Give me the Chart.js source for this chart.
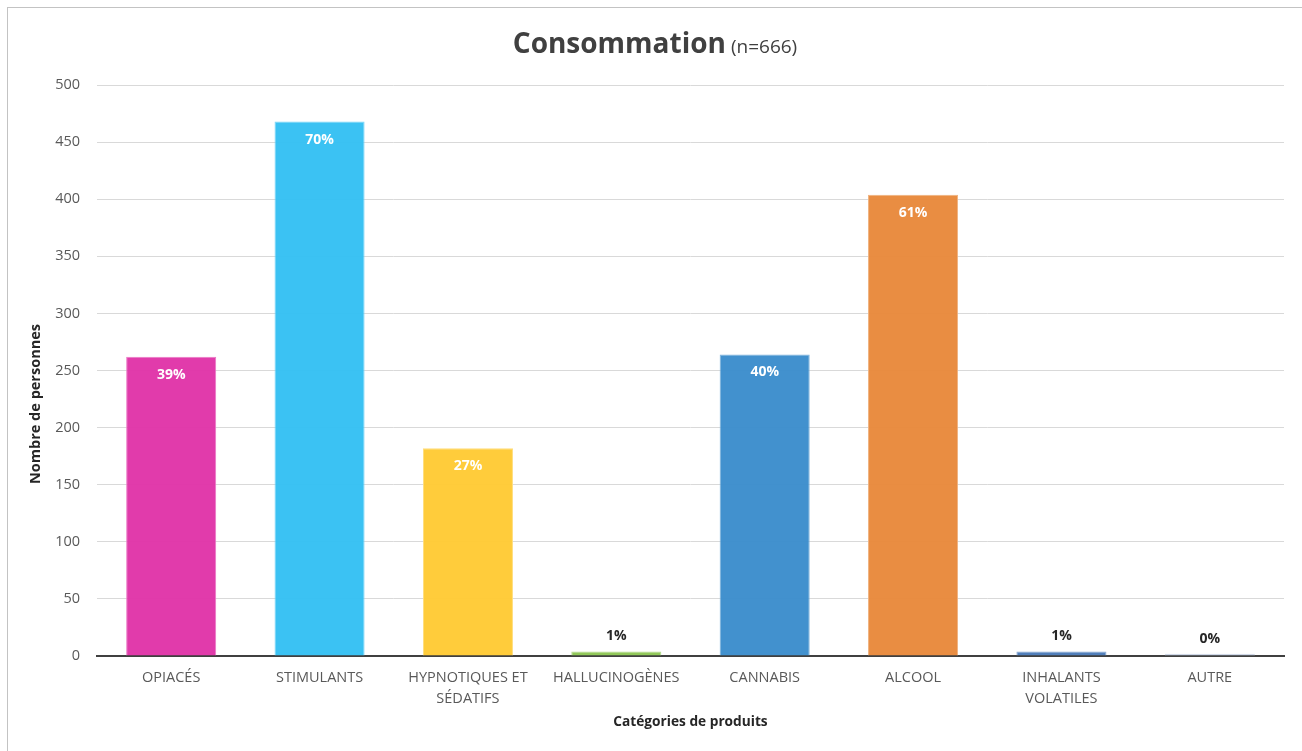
<!DOCTYPE html>
<html lang="fr">
<head>
<meta charset="utf-8">
<title>Consommation</title>
<script src="https://cdn.jsdelivr.net/npm/chart.js@4.4.1/dist/chart.umd.min.js"></script>
<style>
  html, body { margin:0; padding:0; background:#fff; overflow:hidden; }
  #wrap { position:relative; width:1302px; height:751px; }
  #frame { position:absolute; left:7px; top:7px; width:1400px; height:900px; border-top:1px solid #c3c3c3; border-left:1px solid #c3c3c3; pointer-events:none; }
  #chart { position:absolute; left:0; top:0; }
</style>
</head>
<body>
<div id="wrap">
  <div id="frame"></div>
  <canvas id="chart" width="1302" height="751"></canvas>
</div>
<script>
// categories (multi-line labels) and counts per category
const categories = [
  ['OPIACÉS'], ['STIMULANTS'], ['HYPNOTIQUES ET', 'SÉDATIFS'], ['HALLUCINOGÈNES'],
  ['CANNABIS'], ['ALCOOL'], ['INHALANTS', 'VOLATILES'], ['AUTRE']
];
const counts = [262, 468, 182, 4, 264, 404, 4, 2];
const total = 666;
const barColors = ['#e033a8', '#33bff2', '#ffca33', '#8cc652', '#3a8ccc', '#e8883a', '#4a7ab8', '#b8c6dc'];
const yTicks = [0, 50, 100, 150, 200, 250, 300, 350, 400, 450, 500];

const FONT = '"Open Sans", "Noto Sans", sans-serif';

function rgba(hex, a){
  const n = parseInt(hex.slice(1), 16);
  return `rgba(${n>>16},${(n>>8)&255},${n&255},${a})`;
}
function lighten(hex, k){
  const n = parseInt(hex.slice(1), 16);
  const c = [n>>16, (n>>8)&255, n&255].map(v=>Math.round(v + (255-v)*k));
  return `rgb(${c.join(',')})`;
}

// title, axis titles and percent labels
const decor = {
  id: 'decor',
  afterDatasetsDraw(chart){
    const ctx = chart.ctx;
    const meta = chart.getDatasetMeta(0);
    ctx.save();
    ctx.textAlign = 'center';
    ctx.textBaseline = 'middle';
    ctx.font = `bold 14px ${FONT}`;
    meta.data.forEach((bar, i)=>{
      const pct = Math.round(counts[i] / total * 100) + '%';
      const h = bar.base - bar.y;
      if(h > 30){
        ctx.fillStyle = '#ffffff';
        ctx.fillText(pct, bar.x, bar.y + 18);
      } else {
        ctx.fillStyle = '#262626';
        ctx.fillText(pct, bar.x, bar.y - 15);
      }
    });
    ctx.restore();
  },
  afterDraw(chart){
    const ctx = chart.ctx;
    ctx.save();
    // main title: bold word + smaller count
    const big = 'Consommation', small = ' (n=666)';
    ctx.textBaseline = 'alphabetic';
    ctx.font = `bold 28px ${FONT}`;
    const w1 = ctx.measureText(big).width;
    ctx.font = `19px ${FONT}`;
    const w2 = ctx.measureText(small).width;
    const x0 = 655 - (w1 + w2) / 2;
    ctx.fillStyle = '#404040';
    ctx.textAlign = 'left';
    ctx.font = `bold 28px ${FONT}`;
    ctx.fillText(big, x0, 53);
    ctx.font = `19px ${FONT}`;
    ctx.fillText(small, x0 + w1, 53);

    // axis titles
    ctx.fillStyle = '#262626';
    ctx.textAlign = 'center';
    ctx.textBaseline = 'middle';
    ctx.font = `bold 13.7px ${FONT}`;
    const a = chart.chartArea;
    ctx.fillText('Catégories de produits', (a.left + a.right) / 2, 722);
    ctx.translate(36, 404);
    ctx.rotate(-Math.PI / 2);
    ctx.font = `bold 14.5px ${FONT}`;
    ctx.fillText('Nombre de personnes', 0, 0);
    ctx.restore();
  }
};

new Chart(document.getElementById('chart').getContext('2d'), {
  type: 'bar',
  data: {
    labels: categories,
    datasets: [{
      data: counts,
      backgroundColor: barColors.map(c=>rgba(c, 0.96)),
      borderColor: barColors.map(c=>lighten(c, 0.35)),
      borderWidth: 1,
      barPercentage: 0.607,
      categoryPercentage: 1
    }]
  },
  options: {
    responsive: false,
    animation: false,
    layout: { padding: { top: 85, right: 18, left: 0, bottom: 0 } },
    plugins: { legend: { display: false }, tooltip: { enabled: false } },
    scales: {
      x: {
        afterFit(s){ s.height = 95; },
        grid: { display: false, drawTicks: false },
        border: { display: true, color: '#404040', width: 2 },
        ticks: { color: '#595959', padding: 11, font: { family: FONT, size: 14.5, lineHeight: 1.45 }, maxRotation: 0, autoSkip: false }
      },
      y: {
        min: 0, max: 500,
        afterFit(s){ s.width = 97; },
        afterBuildTicks(s){ s.ticks = yTicks.map(v=>({ value: v })); },
        grid: { color: '#d9d9d9', drawTicks: false },
        border: { display: false },
        ticks: { color: '#595959', padding: 17, font: { family: FONT, size: 14.5 } }
      }
    }
  },
  plugins: [decor]
});
</script>
</body>
</html>
